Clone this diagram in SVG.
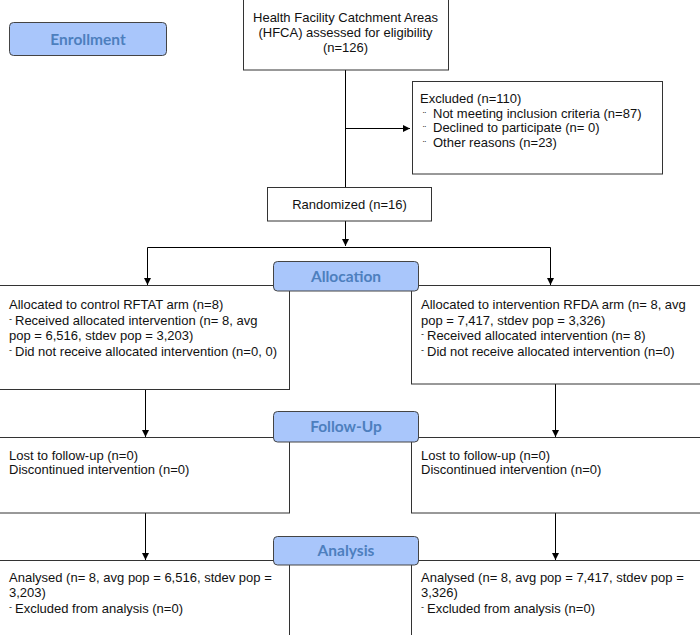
<svg xmlns="http://www.w3.org/2000/svg" width="700" height="635" viewBox="0 0 700 635">
<defs>
<marker id="ah" markerWidth="8" markerHeight="8" refX="7" refY="4" orient="auto" markerUnits="userSpaceOnUse">
<path d="M0,0.5 L7,4 L0,7.5 Z" fill="#000"/>
</marker>
<style>
.box{fill:#fff;stroke:#333;stroke-width:1}
.lab{fill:#a9c6fb;stroke:#444;stroke-width:1}
.labt{font-family:Lato,"Open Sans",sans-serif;font-weight:bold;font-size:15.5px;fill:#4d7fbe;text-anchor:middle}
.t{font-family:"Liberation Sans",Arial,sans-serif;font-size:13px;fill:#111}
.c{text-anchor:middle}
.b{font-size:9px}
.ln{stroke:#000;stroke-width:1;fill:none}
</style>
</defs>
<rect width="700" height="635" fill="#fff"/>
<g id="connectors">
<path class="ln" d="M345.5,70 V221"/>
<path class="ln" d="M345.5,128.5 H410" marker-end="url(#ah)"/>
<path class="ln" d="M345.5,221 V246" marker-end="url(#ah)"/>
<path class="ln" d="M147.5,247.5 H550.5"/>
<path class="ln" d="M147.5,247.5 V285" marker-end="url(#ah)"/>
<path class="ln" d="M550.5,247.5 V285" marker-end="url(#ah)"/>
<path class="ln" d="M145.5,389 V437" marker-end="url(#ah)"/>
<path class="ln" d="M555.5,384 V437" marker-end="url(#ah)"/>
<path class="ln" d="M145.5,513 V560" marker-end="url(#ah)"/>
<path class="ln" d="M555.5,513 V560" marker-end="url(#ah)"/>
</g>
<g id="enrollment">
<rect class="lab" x="9.5" y="22.5" width="157" height="33" rx="4"/>
<text class="labt" x="88" y="45">Enrollment</text>
</g>
<g id="assessed">
<rect class="box" x="243.5" y="-0.5" width="205" height="70.5"/>
<text class="t c" x="345.5" y="22">Health Facility Catchment Areas</text>
<text class="t c" x="345.5" y="37">(HFCA) assessed for eligibility</text>
<text class="t c" x="345.5" y="52">(n=126)</text>
</g>
<g id="excluded">
<rect class="box" x="412.5" y="81.5" width="250" height="92.5"/>
<text class="t" x="420" y="103">Excluded (n=110)</text>
<text class="t" x="423" y="117.5"><tspan class="b">¨</tspan><tspan x="433">Not meeting inclusion criteria (n=87)</tspan></text>
<text class="t" x="423" y="132"><tspan class="b">¨</tspan><tspan x="433">Declined to participate (n= 0)</tspan></text>
<text class="t" x="423" y="147"><tspan class="b">¨</tspan><tspan x="433">Other reasons (n=23)</tspan></text>
</g>
<g id="randomized">
<rect class="box" x="267.5" y="187.5" width="164" height="33.5"/>
<text class="t c" x="349.5" y="209">Randomized (n=16)</text>
</g>
<g id="alloc-control">
<rect class="box" x="-1" y="285.5" width="290.5" height="104"/>
<text class="t" x="9" y="309">Allocated to control RFTAT arm (n=8)</text>
<text class="t" x="9" y="324.5"><tspan class="b" dy="-3">-</tspan><tspan x="15" dy="3">Received allocated intervention (n= 8, avg</tspan></text>
<text class="t" x="9" y="340">pop = 6,516, stdev pop = 3,203)</text>
<text class="t" x="9" y="355.5"><tspan class="b" dy="-3">-</tspan><tspan x="15" dy="3">Did not receive allocated intervention (n=0, 0)</tspan></text>
</g>
<g id="alloc-intervention">
<rect class="box" x="411.5" y="285.5" width="290" height="98.5"/>
<text class="t" x="421" y="309">Allocated to intervention RFDA arm (n= 8, avg</text>
<text class="t" x="421" y="324.5">pop = 7,417, stdev pop = 3,326)</text>
<text class="t" x="421" y="340"><tspan class="b" dy="-3">-</tspan><tspan x="427" dy="3">Received allocated intervention (n= 8)</tspan></text>
<text class="t" x="421" y="355.5"><tspan class="b" dy="-3">-</tspan><tspan x="427" dy="3">Did not receive allocated intervention (n=0)</tspan></text>
</g>
<g id="followup-control">
<rect class="box" x="-1" y="437.5" width="290.5" height="75.5"/>
<text class="t" x="9" y="459.5">Lost to follow-up (n=0)</text>
<text class="t" x="9" y="474">Discontinued intervention (n=0)</text>
</g>
<g id="followup-intervention">
<rect class="box" x="411.5" y="437.5" width="290" height="75.5"/>
<text class="t" x="421" y="459.5">Lost to follow-up (n=0)</text>
<text class="t" x="421" y="474">Discontinued intervention (n=0)</text>
</g>
<g id="analysis-control">
<rect class="box" x="-1" y="560.5" width="290.5" height="90"/>
<text class="t" x="9" y="582">Analysed (n= 8, avg pop = 6,516, stdev pop =</text>
<text class="t" x="9" y="597">3,203)</text>
<text class="t" x="9" y="612.5"><tspan class="b" dy="-3">-</tspan><tspan x="15" dy="3">Excluded from analysis (n=0)</tspan></text>
</g>
<g id="analysis-intervention">
<rect class="box" x="411.5" y="560.5" width="290" height="90"/>
<text class="t" x="421" y="582">Analysed (n= 8, avg pop = 7,417, stdev pop =</text>
<text class="t" x="421" y="597">3,326)</text>
<text class="t" x="421" y="612.5"><tspan class="b" dy="-3">-</tspan><tspan x="427" dy="3">Excluded from analysis (n=0)</tspan></text>
</g>
<g id="allocation">
<rect class="lab" x="273.5" y="261.5" width="145" height="29.5" rx="4"/>
<text class="labt" x="346" y="282">Allocation</text>
</g>
<g id="followup">
<rect class="lab" x="273.5" y="411.5" width="145" height="30.5" rx="4"/>
<text class="labt" x="346" y="432">Follow-Up</text>
</g>
<g id="analysis">
<rect class="lab" x="273.5" y="536.5" width="145" height="28.5" rx="4"/>
<text class="labt" x="346" y="556">Analysis</text>
</g>
</svg>
